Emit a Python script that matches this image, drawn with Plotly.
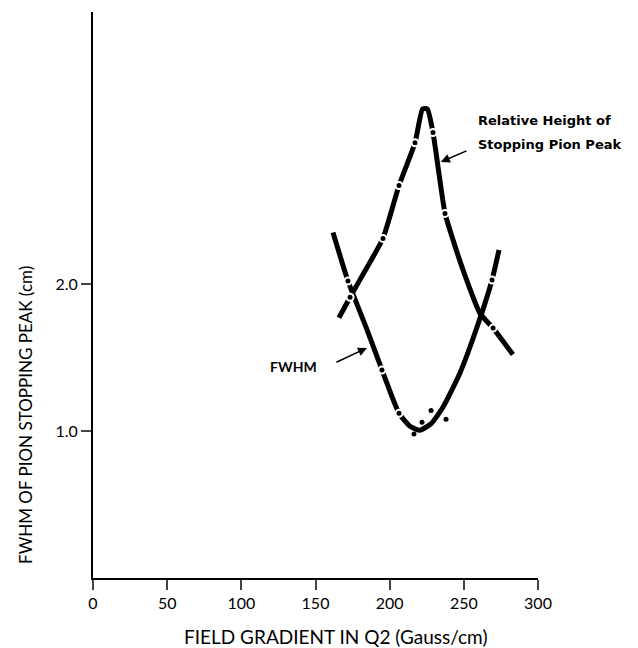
import plotly.graph_objects as go

# Relative height of stopping pion peak (curve)
rel_x = [165.8, 173.3, 184.0, 195.5, 206.3, 217.1, 222.2, 225.4, 229.2, 237.3, 242.7, 250.0, 260.9, 269.7, 283.1]
rel_y = [1.77, 1.91, 2.10, 2.31, 2.67, 2.96, 3.19, 3.19, 3.03, 2.48, 2.30, 2.08, 1.80, 1.70, 1.52]
rel_pts_x = [173.3, 195.5, 206.3, 217.1, 229.2, 237.3, 269.7]
rel_pts_y = [1.91, 2.31, 2.67, 2.96, 3.03, 2.48, 1.70]

# FWHM curve
fwhm_x = [161.8, 171.9, 184.7, 194.8, 206.3, 214.0, 220.4, 228.0, 236.0, 247.4, 258.9, 269.0, 273.7]
fwhm_y = [2.35, 2.02, 1.69, 1.415, 1.12, 1.03, 1.005, 1.05, 1.163, 1.395, 1.707, 2.027, 2.231]
fwhm_pts_x = [171.9, 194.8, 206.3, 269.0]
fwhm_pts_y = [2.02, 1.415, 1.12, 2.027]
scatter_x = [216.4, 221.8, 227.9, 238.0]
scatter_y = [0.98, 1.06, 1.14, 1.08]

x_ticks = [0, 50, 100, 150, 200, 250, 300]
y_ticks = [1.0, 2.0]
y_tick_labels = ["1.0", "2.0"]

FONT = "Lato"
LABEL_FONT = "DejaVu Sans"
fig = go.Figure()
line_style = dict(color="black", width=5, shape="spline", smoothing=0.5)
fig.add_trace(go.Scatter(x=rel_x, y=rel_y, mode="lines", line=line_style, showlegend=False))
fig.add_trace(go.Scatter(x=fwhm_x, y=fwhm_y, mode="lines", line=line_style, showlegend=False))
ring = dict(color="black", size=7, line=dict(color="white", width=2))
fig.add_trace(go.Scatter(x=rel_pts_x + fwhm_pts_x, y=rel_pts_y + fwhm_pts_y, mode="markers",
                         marker=ring, showlegend=False))
fig.add_trace(go.Scatter(x=scatter_x, y=scatter_y, mode="markers",
                         marker=dict(color="black", size=5), showlegend=False))

arrow = dict(xref="x", yref="y", axref="x", ayref="y", text="", showarrow=True,
             arrowhead=2, arrowsize=1.2, arrowwidth=1.5, arrowcolor="black")
fig.add_annotation(x=234.5, y=2.83, ax=252.8, ay=2.91, **arrow)
fig.add_annotation(x=184.7, y=1.565, ax=163.1, ay=1.463, **arrow)

label_font = dict(family=LABEL_FONT, size=13, color="black")
fig.add_annotation(x=258.5, y=3.109, xref="x", yref="y", xanchor="left", yanchor="middle",
                   text="<b>Relative Height of</b>", showarrow=False, font=label_font)
fig.add_annotation(x=258.5, y=2.946, xref="x", yref="y", xanchor="left", yanchor="middle",
                   text="<b>Stopping Pion Peak</b>", showarrow=False, font=label_font)
fig.add_annotation(x=152.5, y=1.442, xref="x", yref="y", xanchor="right", yanchor="middle",
                   text="<b>FWHM</b>", showarrow=False,
                   font=dict(family=FONT, size=14, color="black"))

fig.add_annotation(x=0.544, y=-0.104, xref="paper", yref="paper", xanchor="center", yanchor="middle",
                   text="FIELD GRADIENT IN Q2 (Gauss/cm)", showarrow=False,
                   font=dict(family=FONT, size=19, color="black"))
fig.add_annotation(x=-0.1506, y=0.288, xref="paper", yref="paper", xanchor="center", yanchor="middle",
                   text="FWHM OF PION STOPPING PEAK (cm)", showarrow=False, textangle=-90,
                   font=dict(family=FONT, size=17, color="black"))

fig.update_layout(
    width=630, height=640,
    margin=dict(l=85, r=100, t=4, b=70, autoexpand=False),
    paper_bgcolor="white", plot_bgcolor="white",
    font=dict(family=FONT, size=16, color="black"),
    xaxis=dict(range=[0, 300], tickvals=x_ticks, ticks="outside", ticklen=10, tickwidth=2,
               showline=True, linecolor="black", linewidth=2, showgrid=False, zeroline=False,
               automargin=False, tickfont=dict(family=FONT, size=16)),
    yaxis=dict(range=[0, 3.85], tickvals=y_ticks, ticktext=y_tick_labels, ticks="outside",
               ticklen=10, tickwidth=2, showline=True, linecolor="black", linewidth=2,
               showgrid=False, zeroline=False, automargin=False,
               tickfont=dict(family=FONT, size=16)),
)
fig.write_html("out.html")
